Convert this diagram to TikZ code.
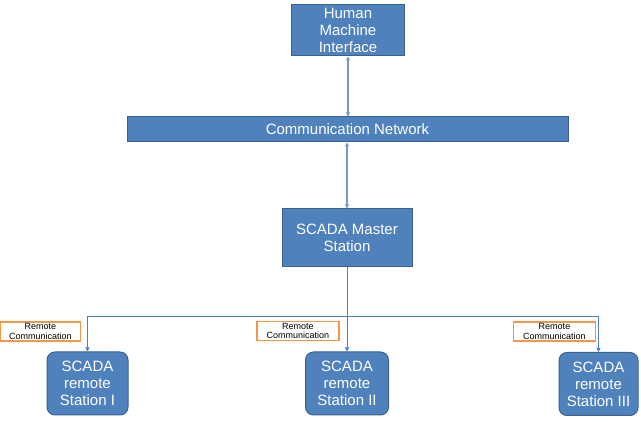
\documentclass[tikz,border=0pt]{standalone}
\usepackage{fontspec}
\setmainfont{Liberation Sans}
\usetikzlibrary{arrows.meta}
\definecolor{boxblue}{HTML}{4F81BD}
\definecolor{boxedge}{HTML}{3A6291}
\definecolor{linkblue}{HTML}{7A98CC}
\definecolor{busblue}{HTML}{4F81BD}
\definecolor{lblorange}{HTML}{F79646}
\tikzset{
  blockbox/.style={draw=boxedge, line width=1pt, fill=boxblue, text=white, inner sep=0pt,
    align=center, font=\fontsize{15}{17}\selectfont},
  remotebox/.style={blockbox, rounded corners=8pt},
  commlabel/.style={draw=lblorange, line width=1.5pt, fill=white, text=black, inner sep=0pt,
    align=center, font=\fontsize{9}{9.5}\selectfont, minimum height=19pt},
  link/.style={draw=linkblue, line width=1.2pt, {Triangle[length=4pt,width=4pt]}-{Triangle[length=4pt,width=4pt]}},
  busline/.style={draw=busblue, line width=0.8pt, -{Triangle[length=4pt,width=4pt]}},
}
\begin{document}
\begin{tikzpicture}[x=1pt,y=-1pt]
\useasboundingbox (0,0) rectangle (641,422);
\node[blockbox, minimum width=113pt, minimum height=51pt] (hmi) at (348,30.5) {Human\\Machine\\Interface};
\node[blockbox, minimum width=441pt, minimum height=25pt] (cn) at (347.5,129.5) {Communication Network};
\node[blockbox, minimum width=130pt, minimum height=58pt] (master) at (347,238) {SCADA Master\\Station};
\node[remotebox, minimum width=81pt, minimum height=63pt] (r1) at (87.5,383.5) {SCADA\\remote\\Station I};
\node[remotebox, minimum width=83pt, minimum height=63pt] (r2) at (347,383.5) {SCADA\\remote\\Station II};
\node[remotebox, minimum width=79pt, minimum height=63pt] (r3) at (598.5,384) {SCADA\\remote\\Station III};
\node[commlabel, minimum width=80pt] (l1) at (40.5,331.5) {Remote\\Communication};
\node[commlabel, minimum width=82pt] (l2) at (298,331) {Remote\\Communication};
\node[commlabel, minimum width=82pt] (l3) at (554.5,331.5) {Remote\\Communication};
\coordinate (bus) at (347,316);
\draw[link] (hmi.south) -- (hmi.south |- cn.north);
\draw[link] (master.north) -- (master.north |- cn.south);
\draw[busline] (bus) -| (r1.north);
\draw[busline] (bus) -| (r3.north);
\draw[busline] (master.south) -- (master.south |- r2.north);
\end{tikzpicture}
\end{document}
